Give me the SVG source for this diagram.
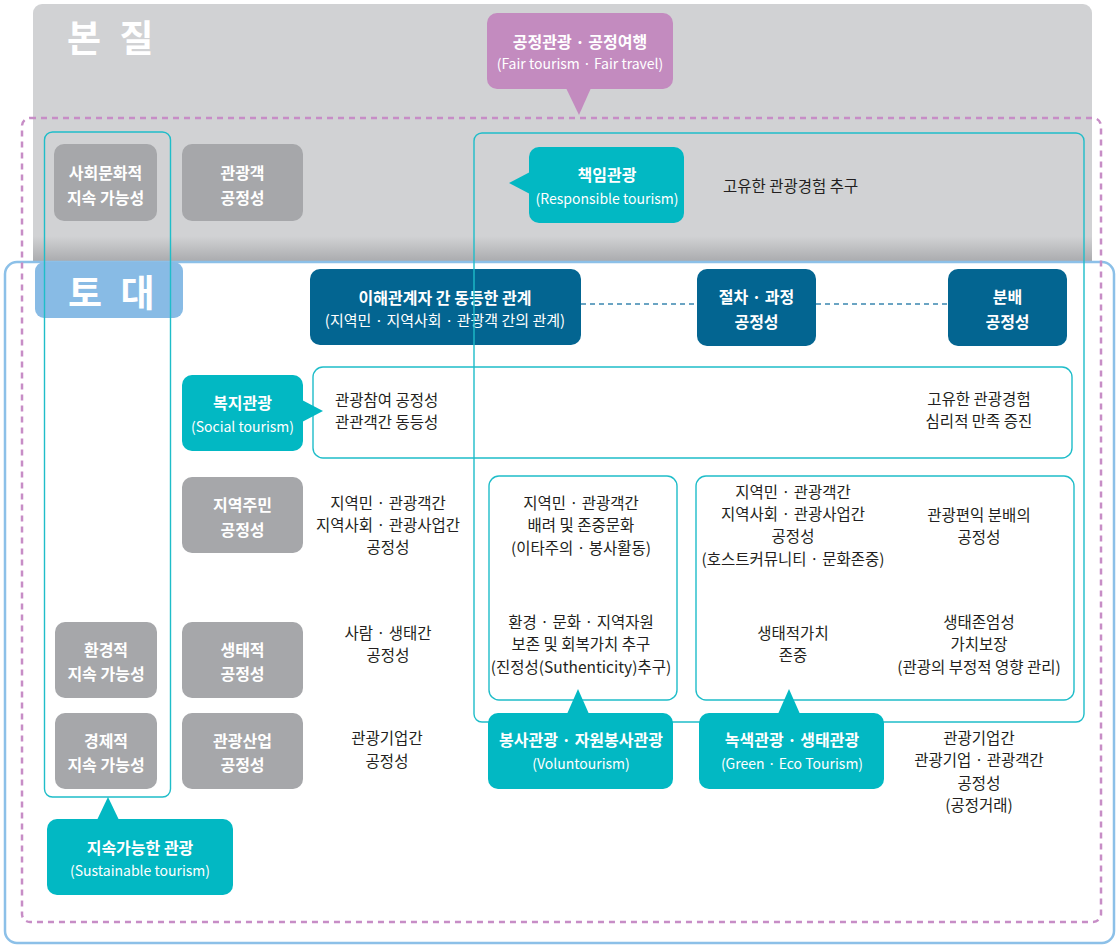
<svg xmlns="http://www.w3.org/2000/svg" width="1116" height="946" viewBox="0 0 1116 946">
<defs>
<linearGradient id="grayGrad" x1="0" y1="0" x2="0" y2="1">
<stop offset="0" stop-color="#d1d2d4"/>
<stop offset="0.86" stop-color="#d1d2d4"/>
<stop offset="1" stop-color="#97989b"/>
</linearGradient>
<style>
text{font-family:"Noto Sans CJK KR","Noto Sans",sans-serif;}
.band{font-size:37px;font-weight:bold;fill:#ffffff;}
.gbox{fill:#a6a7aa;}
.dbox{fill:#036591;}
.tbox{fill:#02b8c3;}
.pbox{fill:#c38bbf;}
.cont{fill:none;stroke:#1fbdc9;stroke-width:1.4;}
.title{font-size:16px;font-weight:bold;fill:#ffffff;text-anchor:middle;}
.sub{font-size:14px;fill:#ffffff;text-anchor:middle;}
.subk{font-size:15px;fill:#ffffff;text-anchor:middle;}
.body{font-size:15.5px;fill:#231f20;text-anchor:middle;}
.bodyl{font-size:15.5px;fill:#231f20;}
.dash{stroke:#3a86b0;stroke-width:1.6;stroke-dasharray:5 4;fill:none;}
</style>
</defs>

<g id="panel-essence">
<rect x="33" y="4" width="1059" height="270" rx="9" fill="url(#grayGrad)"/>
</g>
<g id="panel-foundation">
<rect x="5" y="262" width="1109" height="681" rx="12" fill="#ffffff" stroke="#8cc0e8" stroke-width="2.5"/>
</g>
<g id="fair-scope">
<rect x="22" y="118" width="1079" height="804" rx="8" fill="none" stroke="#c78dc6" stroke-width="2.5" stroke-dasharray="6 5"/>
</g>

<g id="label-essence"><text class="band" x="67" y="52" letter-spacing="5">본 질</text></g>
<g id="label-foundation">
<rect x="35" y="262" width="148" height="56" rx="9" fill="#88bbe5"/>
<text class="band" x="68" y="307" letter-spacing="5">토 대</text>
</g>

<g id="node-sociocultural"><rect class="gbox" x="54" y="144" width="103" height="77" rx="10"/>
<text class="title" x="105.5" y="179">사회문화적</text><text class="title" x="105.5" y="204">지속 가능성</text></g>
<g id="node-tourist"><rect class="gbox" x="182" y="144" width="121" height="77" rx="10"/>
<text class="title" x="242.5" y="179">관광객</text><text class="title" x="242.5" y="204">공정성</text></g>
<g id="node-resident"><rect class="gbox" x="182" y="477" width="121" height="76" rx="10"/>
<text class="title" x="242.5" y="511">지역주민</text><text class="title" x="242.5" y="536">공정성</text></g>
<g id="node-environmental"><rect class="gbox" x="55" y="622" width="102" height="76" rx="10"/>
<text class="title" x="106" y="656">환경적</text><text class="title" x="106" y="680">지속 가능성</text></g>
<g id="node-ecological"><rect class="gbox" x="182" y="622" width="121" height="76" rx="10"/>
<text class="title" x="242.5" y="656">생태적</text><text class="title" x="242.5" y="680">공정성</text></g>
<g id="node-economic"><rect class="gbox" x="55" y="713" width="102" height="76" rx="10"/>
<text class="title" x="106" y="747">경제적</text><text class="title" x="106" y="771">지속 가능성</text></g>
<g id="node-industry"><rect class="gbox" x="182" y="713" width="121" height="76" rx="10"/>
<text class="title" x="242.5" y="747">관광산업</text><text class="title" x="242.5" y="771">공정성</text></g>

<g id="node-stakeholder"><rect class="dbox" x="310" y="269" width="271" height="76" rx="10"/>
<text class="title" x="445" y="304">이해관계자 간 동등한 관계</text><text class="subk" x="445" y="326">(지역민 · 지역사회 · 관광객 간의 관계)</text></g>
<g id="node-procedure"><rect class="dbox" x="697" y="269" width="119" height="77" rx="10"/>
<text class="title" x="756.5" y="303">절차 · 과정</text><text class="title" x="756.5" y="328">공정성</text></g>
<g id="node-distribution"><rect class="dbox" x="948" y="269" width="119" height="77" rx="10"/>
<text class="title" x="1007.5" y="303">분배</text><text class="title" x="1007.5" y="328">공정성</text></g>

<g id="connectors">
<line class="dash" x1="581" y1="304" x2="697" y2="304"/>
<line class="dash" x1="816" y1="304" x2="948" y2="304"/>
</g>

<g id="area-social"><rect x="313" y="367" width="759" height="91" rx="10" fill="none" stroke="#1fbdc9" stroke-width="1.4"/>
<text class="bodyl" x="335" y="405.5">관광참여 공정성</text><text class="bodyl" x="335" y="427.5">관관객간 동등성</text>
<text class="body" x="979" y="404.5">고유한 관광경험</text><text class="body" x="979" y="426.5">심리적 만족 증진</text></g>
<g id="area-volun"><rect class="cont" x="489" y="476" width="188" height="224" rx="10"/>
<text class="body" x="581" y="508.5">지역민 · 관광객간</text><text class="body" x="581" y="531">배려 및 존중문화</text><text class="body" x="581" y="553.5">(이타주의 · 봉사활동)</text>
<text class="body" x="581" y="627.5">환경 · 문화 · 지역자원</text><text class="body" x="581" y="650">보존 및 회복가치 추구</text><text class="body" x="581" y="672.5">(진정성(Suthenticity)추구)</text></g>
<g id="area-green"><rect class="cont" x="696" y="476" width="378" height="224" rx="10"/>
<text class="body" x="793" y="497.5">지역민 · 관광객간</text><text class="body" x="793" y="519.5">지역사회 · 관광사업간</text><text class="body" x="793" y="542">공정성</text><text class="body" x="793" y="564.5">(호스트커뮤니티 · 문화존중)</text>
<text class="body" x="979" y="520.5">관광편익 분배의</text><text class="body" x="979" y="542.5">공정성</text>
<text class="body" x="793" y="638.5">생태적가치</text><text class="body" x="793" y="660.5">존중</text>
<text class="body" x="979" y="627.5">생태존엄성</text><text class="body" x="979" y="649.5">가치보장</text><text class="body" x="979" y="672.5">(관광의 부정적 영향 관리)</text></g>

<g id="texts-free">
<text class="bodyl" x="723" y="191.5">고유한 관광경험 추구</text>
<text class="body" x="388" y="508.5">지역민 · 관광객간</text><text class="body" x="388" y="530.5">지역사회 · 관광사업간</text><text class="body" x="388" y="552.5">공정성</text>
<text class="body" x="388" y="638.5">사람 · 생태간</text><text class="body" x="388" y="660.5">공정성</text>
<text class="body" x="387" y="743.5">관광기업간</text><text class="body" x="387" y="767">공정성</text>
<text class="body" x="979" y="743.5">관광기업간</text><text class="body" x="979" y="766">관광기업 · 관광객간</text><text class="body" x="979" y="788.5">공정성</text><text class="body" x="979" y="810.5">(공정거래)</text>
</g>

<g id="group-sustainable"><rect class="cont" x="44.5" y="132" width="126" height="665" rx="8"/></g>
<g id="group-responsible"><rect class="cont" x="474" y="133" width="610" height="589" rx="8"/></g>

<g id="node-fair"><rect class="pbox" x="487" y="13" width="186" height="76" rx="10"/><polygon class="pbox" points="566,88 591,88 579,115"/>
<text class="title" x="580" y="48">공정관광 · 공정여행</text><text class="sub" x="580" y="69">(Fair tourism · Fair travel)</text></g>
<g id="node-responsible"><rect class="tbox" x="529" y="147" width="155" height="76" rx="10"/><polygon class="tbox" points="530,172 530,194 509,183"/>
<text class="title" x="607" y="181">책임관광</text><text class="sub" x="607" y="204">(Responsible tourism)</text></g>
<g id="node-socialtourism"><rect class="tbox" x="182" y="375" width="121" height="76" rx="10"/><polygon class="tbox" points="302,400 302,422 323,411"/>
<text class="title" x="242.5" y="409">복지관광</text><text class="sub" x="242.5" y="432">(Social tourism)</text></g>
<g id="node-voluntourism"><rect class="tbox" x="488" y="713" width="185" height="76" rx="10"/><polygon class="tbox" points="567,714 589,714 578,689"/>
<text class="title" x="581" y="746">봉사관광 · 자원봉사관광</text><text class="sub" x="581" y="769">(Voluntourism)</text></g>
<g id="node-green"><rect class="tbox" x="699" y="713" width="185" height="76" rx="10"/><polygon class="tbox" points="778,714 800,714 789,689"/>
<text class="title" x="792" y="746">녹색관광 · 생태관광</text><text class="sub" x="792" y="769">(Green · Eco Tourism)</text></g>
<g id="node-sustainable"><rect class="tbox" x="47" y="819" width="186" height="76" rx="10"/><polygon class="tbox" points="97,820 119,820 108,797"/>
<text class="title" x="140" y="854">지속가능한 관광</text><text class="sub" x="140" y="876">(Sustainable tourism)</text></g>
</svg>
